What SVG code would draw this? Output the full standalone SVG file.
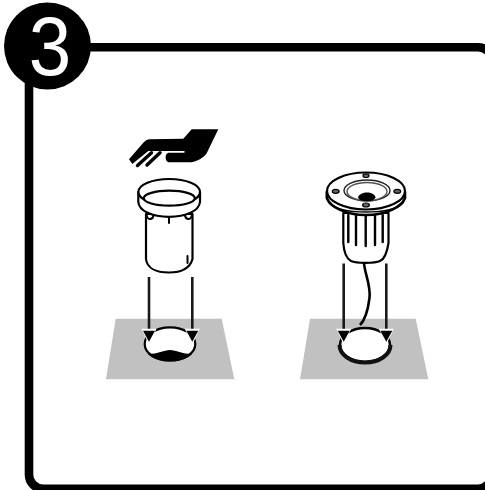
<svg xmlns="http://www.w3.org/2000/svg" width="485" height="490" viewBox="0 0 485 490">
<style>
.l{fill:none;stroke:#000;stroke-width:2;stroke-linecap:round;stroke-linejoin:round}
.w{fill:#fff;stroke:#000;stroke-width:2.200;stroke-linejoin:round}
.g{fill:#c1c1c1}
.a{fill:none;stroke:#1a1a1a;stroke-width:2.600}
.s{fill:#666;stroke:#000;stroke-width:1.200}
</style>
<defs>
<g id="head"><path d="M-7.500 -13L7.500 -13L0 3Z" fill="#fff"/><path d="M-6 -11L6 -11L0 0Z" fill="#000"/></g>
</defs>
<rect width="485" height="490" fill="#fff"/>
<g id="frame"><rect x="29" y="47.200" width="463" height="441.500" rx="14" fill="none" stroke="#000" stroke-width="8.600"/></g>
<g id="badge"><circle cx="47.500" cy="46" r="43.500" fill="#000"/><text transform="translate(50 75) scale(.92 1)" font-family="'Liberation Sans',Arial,sans-serif" font-size="83" fill="#fff" text-anchor="middle">3</text></g>
<g id="hand"><path d="M191.700 129.300H218.300L206.700 153.300C204 157 201 159 198.300 160C195 161.500 192 162.300 190 162.300H168.300C165 161 164.500 154 168.300 152.700H184.500V151H148.300L132.300 164L129 159.300L143.300 142.700C145 141 147 139.300 150 139.300L183.300 138.700Z" fill="#000"/><path d="M151.500 152.700L137.500 165.500M160 152.700L147 165" fill="none" stroke="#000" stroke-width="3.400" stroke-linecap="round"/></g>
<g id="sleeve">
<path class="w" d="M146 214V259C147 268 156 272.500 169 272.500C181 272.500 190 268 192.500 259V214Z"/>
<path class="l" d="M187.500 256V263"/><path class="l" d="M169 217V223"/>
<path class="w" d="M138.300 192V202C139 211 152 216.800 169 216.800C186 216.800 199 211 200 202V192Z"/>
<ellipse class="w" cx="169.200" cy="192" rx="30.800" ry="13"/>
<ellipse class="w" cx="169.300" cy="198.200" rx="25.500" ry="7.500"/>
<path class="l" d="M146.500 214C147 220.500 152.500 220.500 153.500 215.500M185 215.500C186 220.500 191.500 220.500 192 214" stroke-width="1.500"/>
</g>
<g id="slab-left"><path class="g" d="M115.700 318.700H221.700L234.300 379.300H106Z"/>
<ellipse cx="170" cy="344" rx="25.300" ry="16.700" fill="#fff" stroke="#000" stroke-width="2.200"/>
<path d="M148 354C158 354 164 350 170 350C176 350 182 354 192 354C188 358.500 180 361 170 361C160 361 152 358.500 148 354Z" fill="#000"/></g>
<g id="slab-right"><path class="g" d="M310 318.700H415.700L428.300 379.300H300Z"/>
<ellipse cx="365" cy="345" rx="25" ry="17" fill="#fff" stroke="#000" stroke-width="2.600"/>
<path d="M339.500 345C339.500 355 351 362.500 365 362.500C379 362.500 390.500 355 390.500 345" fill="none" stroke="#111" stroke-width="4"/></g>
<g id="fixture">
<path class="w" d="M343.300 213V243C344 253 347 259 351 261C356 263.500 375 263.500 380 261C385 259 387 253 388.500 243V213Z"/>
<path class="l" d="M348.300 215V242M356 215V245M365.700 215V246M375 215V245M382.700 215V242" style="stroke-width:2.400"/>
<path class="w" d="M326.800 192V198C330 207 346 215 366 215C386 215 402 207 405 198V192Z" style="stroke-width:2.600"/>
<path class="l" d="M329 203C336 210 350 212 366 212C382 212 396 210 403 203" style="stroke-width:1.400"/>
<ellipse class="w" cx="366" cy="191" rx="39" ry="18.500"/>
<ellipse cx="367" cy="190.500" rx="23" ry="10.500" fill="#fff" stroke="#222" stroke-width="1.400"/>
<ellipse cx="367" cy="191.500" rx="20" ry="9" fill="#fff" stroke="#555" stroke-width="1.400"/>
<path d="M358 197.500C359 194 363 192.500 367 192.500C371 192.500 375 194 375.500 197.500C374 200.500 371 201 367 201C363 201 359 200.500 358 197.500Z" fill="#000"/>
<ellipse class="s" cx="335.700" cy="191.300" rx="3.400" ry="2"/>
<ellipse class="s" cx="397.300" cy="191.300" rx="3.400" ry="2"/>
<ellipse class="s" cx="366" cy="175.700" rx="3" ry="1.800"/>
<ellipse class="s" cx="366" cy="205" rx="3.400" ry="2"/>
<path d="M364 263C364.500 273 371 285 369.500 298C368 310 365 320 360 325" fill="none" stroke="#000" stroke-width="2.600"/>
</g>
<g id="connectors">
<path class="a" d="M149 277V332M192.300 277V332M343.700 263.500V332M386.300 263.500V332"/>
<use href="#head" x="149" y="341.700"/><use href="#head" x="192.300" y="341.700"/><use href="#head" x="343.700" y="341.700"/><use href="#head" x="386.300" y="341.700"/>
</g>
</svg>
